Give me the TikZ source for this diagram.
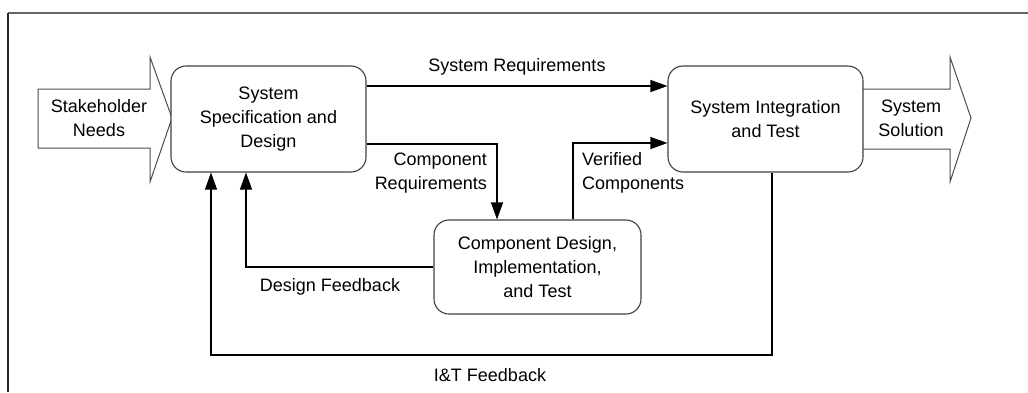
\documentclass[tikz,border=0pt]{standalone}
\usepackage{fontspec}
\setmainfont{Liberation Sans}
\usetikzlibrary{arrows.meta}
\begin{document}
\begin{tikzpicture}[x=1pt,y=-1pt,
  txt/.style={font=\fontsize{18}{24}\selectfont, align=center, inner sep=0pt},
  procbox/.style={txt, draw=black!75, line width=1.1pt, rounded corners=15pt, fill=white},
  bigarrow/.style={draw=black!70, line width=1pt, fill=white, line join=miter},
  flow/.style={line width=1.1pt, -{Triangle[length=17pt,width=12pt]}},
  lbl/.style={font=\fontsize{18}{24}\selectfont, inner sep=0pt}]
\useasboundingbox (0,0) rectangle (1028,392);
% open frame: top and left edges only
\draw[black!60, line width=1.2pt] (1028,13) -- (8,13);
\draw[black!85, line width=1.2pt] (8,13) -- (8,392);

% input and output arrows
\draw[bigarrow] (38,89) -- (150,89) -- (150,57) -- (172,118) -- (150,182) -- (150,148) -- (38,148) -- cycle;
\node[txt] (need) at (99,118) {Stakeholder\\Needs};
\draw[bigarrow] (863,89) -- (950,89) -- (950,57) -- (971,118) -- (950,182) -- (950,149) -- (863,149);
\node[txt] (sol) at (911,118) {System\\Solution};

% process boxes
\node[procbox, minimum width=195pt, minimum height=106pt] (spec) at (268.5,119)
  {System\\Specification and\\Design};
\node[procbox, minimum width=195pt, minimum height=106pt] (integ) at (765.5,119)
  {System Integration\\and Test};
\node[procbox, minimum width=207pt, minimum height=94pt] (comp) at (537.5,267)
  {Component Design,\\Implementation,\\and Test};
\coordinate (itb) at (500,355);

% connectors
\draw[flow] ([yshift=33pt]spec.east) -- ([yshift=33pt]integ.west);
\draw[flow] ([yshift=-25pt]spec.east) -| ([xshift=-40.5pt]comp.north);
\draw[flow] ([xshift=35.5pt]comp.north) |- ([yshift=-24pt]integ.west);
\draw[flow] (comp.west) -| ([xshift=-22.5pt]spec.south);
\draw[flow] ([xshift=6.5pt]integ.south) |- (itb) -| ([xshift=-57.5pt]spec.south);

% connector labels
\node[lbl] (lsr) at (517,67) {System Requirements};
\node[lbl, align=right, anchor=east] (lcr) at (487,173) {Component\\Requirements};
\node[lbl, align=left, anchor=west] (lvc) at (582,173) {Verified\\Components};
\node[lbl] (ldf) at (330,287) {Design Feedback};
\node[lbl] (lit) at (490,375) {I\&T Feedback};
\end{tikzpicture}
\end{document}
